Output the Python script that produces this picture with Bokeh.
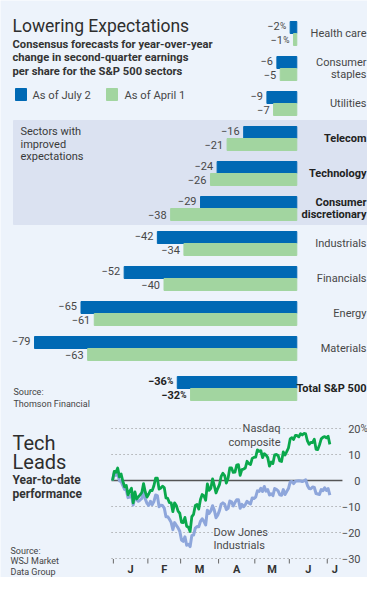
import numpy as np
import pandas as pd
from bokeh.plotting import figure
from bokeh.models import Range1d
from bokeh.core.properties import value
from bokeh.embed import file_html
from bokeh.resources import INLINE

# ---------------- data ----------------
sectors = ["Health care", "Consumer\nstaples", "Utilities", "Telecom", "Technology",
           "Consumer\ndiscretionary", "Industrials", "Financials", "Energy", "Materials"]
as_of_july2 = [-2, -6, -9, -16, -24, -29, -42, -52, -65, -79]
as_of_april1 = [-1, -5, -7, -21, -26, -38, -34, -40, -61, -63]
improved = ["Telecom", "Technology", "Consumer\ndiscretionary"]
pct_sectors = ["Health care"]
total_name = "Total S&P 500"
total_july2 = -36
total_april1 = -32

start_date = "2008-12-31"
trading_days_2009 = {
    1: [2, 5, 6, 7, 8, 9, 12, 13, 14, 15, 16, 20, 21, 22, 23, 26, 27, 28, 29, 30],
    2: [2, 3, 4, 5, 6, 9, 10, 11, 12, 13, 17, 18, 19, 20, 23, 24, 25, 26, 27],
    3: [2, 3, 4, 5, 6, 9, 10, 11, 12, 13, 16, 17, 18, 19, 20, 23, 24, 25, 26, 27, 30, 31],
    4: [1, 2, 3, 6, 7, 8, 9, 13, 14, 15, 16, 17, 20, 21, 22, 23, 24, 27, 28, 29, 30],
    5: [1, 4, 5, 6, 7, 8, 11, 12, 13, 14, 15, 18, 19, 20, 21, 22, 26, 27, 28, 29],
    6: [1, 2, 3, 4, 5, 8, 9, 10, 11, 12, 15, 16, 17, 18, 19, 22, 23, 24, 25, 26, 29, 30],
    7: [1, 2],
}
nasdaq = [0.0,
    3.5, 3.2, 4.8, 1.4, 2.5, -0.3, -2.4, -1.9, -5.5, -4.1, -3.0, -8.6, -4.4, -7.1, -6.3, -5.5, -4.6, -1.2, -4.4, -6.4,
    -5.2, -3.8, -3.9, -2.0, 0.9, 0.9, -3.3, -2.9, -2.2, -2.7, -6.7, -6.9, -8.5, -8.6, -12.0, -8.6, -9.6, -11.8, -12.6,
    -16.1, -16.2, -14.2, -17.6, -18.0, -19.6, -13.9, -13.0, -9.6, -9.2, -11.0, -7.3, -5.4, -5.9, -7.6, -1.3, -3.8, -3.0, 0.6, -2.0, -4.8, -3.1,
    -1.6, 1.6, 2.8, 1.9, -1.0, 0.9, 4.8, 4.8, 3.1, 3.2, 5.9, 6.1, 2.0, 4.2, 4.4, 4.8, 7.4, 6.5, 6.1, 8.5, 8.9,
    9.0, 11.8, 11.2, 11.5, 8.8, 10.3, 9.8, 8.8, 5.5, 7.1, 6.5, 9.9, 10.0, 9.6, 7.5, 7.3, 11.0, 9.8, 11.1, 12.5,
    16.0, 16.5, 15.8, 17.3, 17.3, 16.8, 18.0, 17.5, 18.1, 17.9, 15.2, 13.9, 14.7, 14.6, 15.9, 12.0, 11.9, 13.7, 16.0, 16.6, 16.9, 16.4,
    17.0, 13.9]
dow_jones = [0.0,
    2.9, 2.0, 2.7, -0.1, -0.4, -2.0, -3.4, -3.7, -6.6, -6.4, -5.6, -9.4, -6.2, -7.4, -8.0, -7.5, -6.9, -4.6, -7.1, -8.8,
    -9.6, -8.0, -9.3, -8.1, -5.6, -5.8, -10.1, -9.5, -9.6, -10.6, -13.9, -13.9, -14.9, -16.1, -18.9, -16.2, -17.2, -18.2, -19.5,
    -22.9, -23.4, -21.7, -24.9, -24.5, -25.4, -21.1, -21.0, -18.3, -17.7, -17.8, -15.7, -14.7, -15.7, -17.1, -11.4, -12.7, -11.7, -9.7, -11.4, -14.3, -13.3,
    -11.6, -9.1, -8.6, -9.1, -11.2, -10.7, -7.9, -8.2, -9.8, -8.5, -7.4, -7.4, -10.7, -9.2, -10.1, -9.3, -8.0, -8.6, -9.0, -6.7, -6.9,
    -6.4, -4.0, -4.2, -3.0, -4.2, -2.3, -4.1, -3.5, -5.6, -5.1, -5.8, -3.1, -3.4, -4.0, -5.5, -5.7, -3.5, -5.4, -4.2, -3.1,
    -0.6, -0.4, -1.2, -0.3, -0.2, -0.1, -0.2, -0.4, -0.1, 0.3, -1.9, -3.1, -3.2, -2.5, -2.7, -5.0, -5.2, -5.4, -3.5, -3.9, -2.8, -3.8,
    -3.1, -5.6]
y_ticks = [20, 10, 0, -10, -20, -30]

# ---------------- style / layout ----------------
BG = "#EDF3FB"
BOX = "#DBE2F1"
BLUE = "#0069B4"
GREEN = "#A2D5A0"
NAS = "#0AA84C"
DJ = "#8EA6DB"
TXT = "#2E2E2E"
LBL = "#474747"
FONT = "Roboto"
MINUS = "\u2212"

W, H = 367, 577
X0, Y0 = 0, 0

p = figure(width=W, height=H, x_range=Range1d(X0, X0 + W), y_range=Range1d(Y0 + H, Y0),
           x_axis_type=None, y_axis_type=None, output_backend="svg", toolbar_location=None,
           min_border=0, background_fill_color=BG, border_fill_color=BG, outline_line_color=None)

# bar chart scales
ZERO_PX, PCT_PX = 296.3, 3.32
ROW0_PX, ROW_PX, BAR_PX, TOTAL_GAP_PX = 33, 35, 12, 5
p.extra_x_ranges["bx"] = Range1d((X0 - ZERO_PX) / PCT_PX, (X0 + W - ZERO_PX) / PCT_PX)
p.extra_y_ranges["by"] = Range1d((Y0 + H - ROW0_PX) / ROW_PX, (Y0 - ROW0_PX) / ROW_PX)

# line chart scales
LX0_PX, DAY_PX = 112, 1.725
LZERO_PX, LPCT_PX = 480, 2.6
p.extra_x_ranges["lx"] = Range1d((X0 - LX0_PX) / DAY_PX, (X0 + W - LX0_PX) / DAY_PX)
p.extra_y_ranges["ly"] = Range1d((LZERO_PX - (Y0 + H)) / LPCT_PX, (LZERO_PX - Y0) / LPCT_PX)

RIGHT_LBL = 366

def txt(x, y, t, size, color=TXT, style="normal", align="left", baseline="alphabetic", **kw):
    p.text(x=x, y=y, text=t, text_font=value(FONT), text_font_size=size, text_color=color,
           text_font_style=style, text_align=align, text_baseline=baseline, **kw)

# ---------------- top chart ----------------
txt([12], [25], ["Lowering Expectations"], "17.5px")
txt([12, 12, 12], [43.5, 57.3, 71],
    ["Consensus forecasts for year-over-year", "change in second-quarter earnings",
     "per share for the S&P 500 sectors"], "11.2px", style="bold", color="#333333")

# legend
p.quad(left=[15], right=[26], top=[88], bottom=[100], color=BLUE)
p.quad(left=[106], right=[117], top=[88], bottom=[100], color=GREEN)
txt([32, 124], [94.5, 94.5], ["As of July 2", "As of April 1"], "11.2px", color=LBL, baseline="middle")

n = len(sectors)
pos = list(range(n)) + [n + TOTAL_GAP_PX / ROW_PX]
names = sectors + [total_name]
v_july = as_of_july2 + [total_july2]
v_april = as_of_april1 + [total_april1]
bar_h = BAR_PX / ROW_PX
half = bar_h / 2

# highlight box for improved sectors
imp_idx = [sectors.index(s) for s in improved]
p.quad(left=[13], right=[W], top=[min(imp_idx) - bar_h - 6 / ROW_PX],
       bottom=[max(imp_idx) + bar_h + 4 / ROW_PX], color=BOX, y_range_name="by")
txt([20, 20, 20], [131, 143.5, 156], ["Sectors with", "improved", "expectations"], "11px",
    color="#3a3a3a", baseline="middle")

y_blue = [q - half for q in pos]
y_green = [q + half for q in pos]
p.hbar(y=y_blue, left=0, right=v_july, height=bar_h, color=BLUE, x_range_name="bx", y_range_name="by")
p.hbar(y=y_green, left=0, right=v_april, height=bar_h, color=GREEN, x_range_name="bx", y_range_name="by")

bold_rows = set(improved + [total_name])
GAP = 4
PCT_W = 6.5
for i, nm in enumerate(names):
    is_total = nm == total_name
    pc = nm in pct_sectors or is_total
    st = "bold" if is_total else "normal"
    cl = "#222222" if is_total else LBL
    xs = [v_july[i], v_april[i]]
    ys = [y_blue[i] - 0.03, y_green[i] + 0.02]
    p.text(x=xs, y=ys, text=[MINUS + str(abs(v)) for v in xs],
           x_offset=-GAP - (PCT_W if pc else 0),
           text_font=value(FONT), text_font_size="11px", text_color=cl, text_font_style=st,
           text_align="right", text_baseline="middle", x_range_name="bx", y_range_name="by")
    if pc:
        p.text(x=xs, y=ys, text=["%", "%"], x_offset=-GAP,
               text_font=value(FONT), text_font_size="8.5px", text_color=cl, text_font_style=st,
               text_align="right", text_baseline="middle", x_range_name="bx", y_range_name="by")

for rows, style, col in [([i for i, nm in enumerate(names) if nm not in bold_rows], "normal", LBL),
                         ([i for i, nm in enumerate(names) if nm in bold_rows], "bold", "#222222")]:
    lx, ly, lt = [], [], []
    for i in rows:
        lines = names[i].split("\n")
        m = len(lines)
        for k, ln in enumerate(lines):
            lx.append(RIGHT_LBL)
            ly.append(pos[i] + (k - (m - 1) / 2) * 12.5 / ROW_PX)
            lt.append(ln)
    p.text(x=lx, y=ly, text=lt, text_font=value(FONT), text_font_size="11px", text_color=col,
           text_font_style=style, text_align="right", text_baseline="middle", y_range_name="by")

txt([13, 13], [391.5, 403], ["Source:", "Thomson Financial"], "9px", color="#444444", baseline="middle")

# ---------------- bottom chart ----------------
txt([12, 12], [442, 461.5], ["Tech", "Leads"], "20px")
txt([12, 12], [479.5, 493.5], ["Year-to-date", "performance"], "12px", style="bold", color="#333333")
txt([10, 10, 10], [550, 560.5, 571], ["Source:", "WSJ Market", "Data Group"], "9px",
    color="#444444", baseline="middle")

dates = [pd.Timestamp(start_date)] + [pd.Timestamp(2009, m, d) for m, ds in trading_days_2009.items() for d in ds]
idx = np.arange(len(dates))
GRID_X0 = -0.55
GRID_X1 = len(dates) - 1 + 7.3

grid_vals = [t for t in y_ticks if t != 0]
p.segment(x0=[GRID_X0] * len(grid_vals), x1=[GRID_X1] * len(grid_vals), y0=grid_vals, y1=grid_vals,
          line_color="#8c8c8c", line_width=1, line_dash="1 3", x_range_name="lx", y_range_name="ly")
p.segment(x0=[GRID_X0], x1=[GRID_X1], y0=[0], y1=[0], line_color="#555555", line_width=1.3,
          x_range_name="lx", y_range_name="ly")

# y tick labels
TICK_R = 360
tick_txt = [(MINUS + str(abs(t))) if t < 0 else str(t) for t in y_ticks]
p.text(x=[TICK_R] * len(y_ticks), y=y_ticks, text=tick_txt, text_font=value(FONT), text_font_size="11px",
       text_color="#4a4a4a", text_align="right", text_baseline="middle", y_range_name="ly")
p.text(x=[TICK_R], y=[max(y_ticks)], text=["%"], text_font=value(FONT), text_font_size="10px",
       text_color="#4a4a4a", text_align="left", text_baseline="middle", y_range_name="ly")

# month ticks and labels
months = [d.month for d in dates]
first_idx = [i for i in range(1, len(dates)) if months[i] != months[i - 1]]
tick_x = [i - 0.5 for i in first_idx]
p.segment(x0=tick_x, x1=tick_x, y0=[558.5] * len(tick_x), y1=[563] * len(tick_x),
          line_color="#666666", line_width=1, x_range_name="lx")
ends = tick_x[1:] + [GRID_X1]
lab_x = [(a + b) / 2 for a, b in zip(tick_x, ends)]
lab_t = [dates[i].strftime("%b")[0] for i in first_idx]
p.text(x=lab_x, y=[568.5] * len(lab_x), text=lab_t, text_font=value(FONT), text_font_size="11px",
       text_color="#333333", text_font_style="bold", text_align="center", text_baseline="middle",
       x_range_name="lx")

# series labels
p.text(x=[280, 280], y=[428, 442], text=["Nasdaq", "composite"], text_font=value(FONT),
       text_font_size="11px", text_color="#4a4a4a", text_align="right", text_baseline="middle",
       background_fill_color=BG)
p.text(x=[213, 213], y=[532, 544.5], text=["Dow Jones", "Industrials"], text_font=value(FONT),
       text_font_size="11px", text_color="#4a4a4a", text_align="left", text_baseline="middle",
       background_fill_color=BG)

p.line(idx, dow_jones, line_color=DJ, line_width=3, line_join="round", x_range_name="lx", y_range_name="ly")
p.line(idx, nasdaq, line_color=NAS, line_width=2.8, line_join="round", x_range_name="lx", y_range_name="ly")

open("out.html", "w").write(file_html(p, INLINE))
